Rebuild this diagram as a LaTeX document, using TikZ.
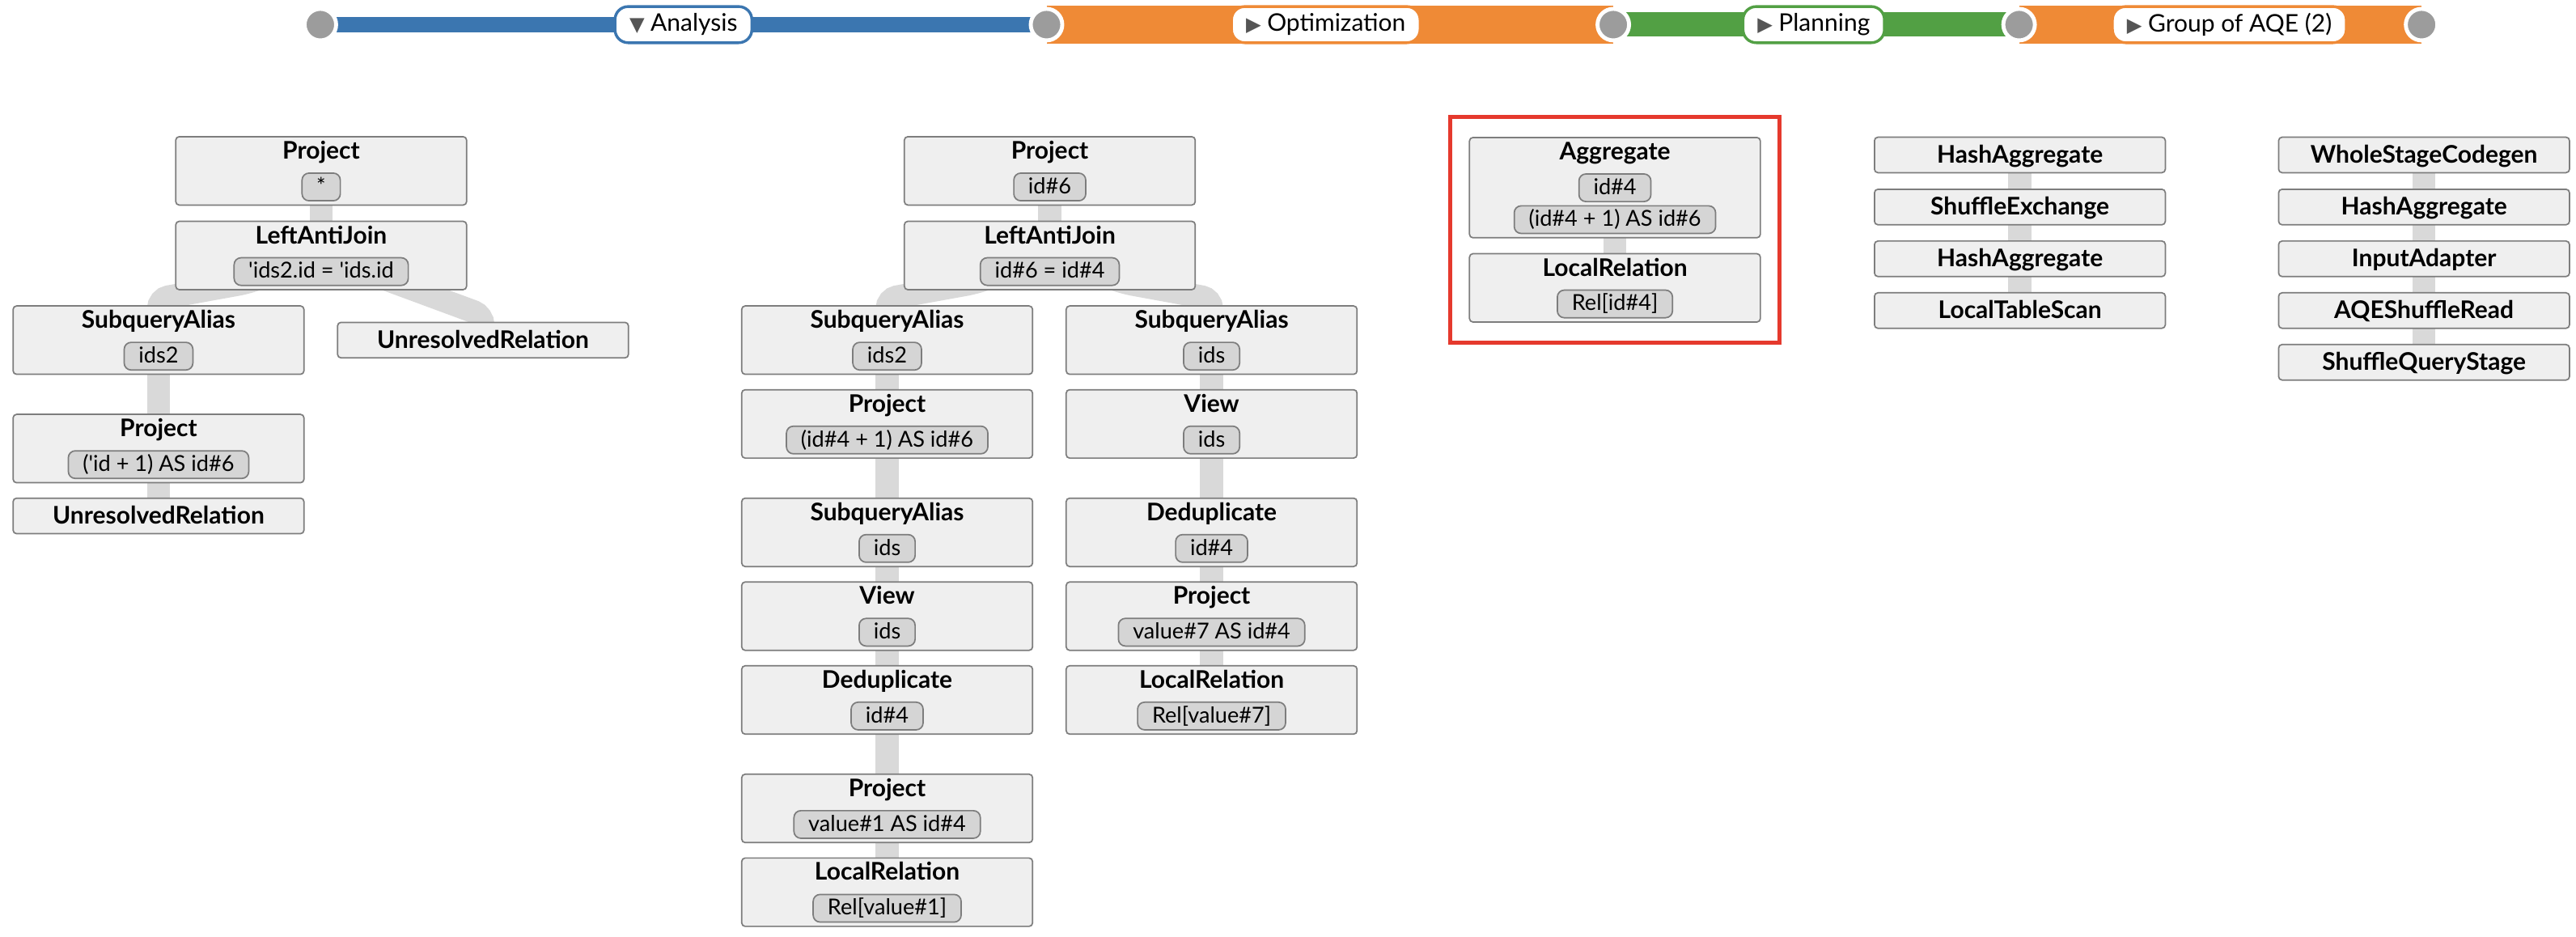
\documentclass[tikz,border=0pt]{standalone}
\usepackage{fontspec}
\setmainfont{Lato}
\newfontfamily\glyphfont{DejaVu Sans}
\usepackage{tikz}
\usetikzlibrary{backgrounds,fit}

\definecolor{boxfill}{HTML}{EFEFEF}
\definecolor{boxline}{HTML}{7D7D7D}
\definecolor{pillfill}{HTML}{D5D5D5}
\definecolor{linkgray}{HTML}{D9D9D9}
\definecolor{dotgray}{HTML}{9C9C9C}
\definecolor{markgray}{HTML}{555555}
\definecolor{barblue}{HTML}{3B76B0}
\definecolor{barorange}{HTML}{EF8A36}
\definecolor{bargreen}{HTML}{52A044}
\definecolor{hlred}{HTML}{E5392D}

\newcommand{\opfont}{\bfseries\fontsize{10.5}{12}\selectfont}
\newcommand{\exprfont}{\fontsize{9.5}{11}\selectfont}
\newcommand{\stagefont}{\fontsize{10.5}{12}\selectfont}
\newcommand{\stagemark}[1]{{\glyphfont\fontsize{8.5}{9}\selectfont\color{markgray}#1}}

% box with a bold title and one expression pill
\newcommand{\planop}[4]{%
  \node[opbox] (#1) at (#2) {};
  \node[optitle] (#1t) at ([yshift=-0.35cm]#1.north) {#3};
  \node[pill] (#1p) at ([yshift=-0.775cm]#1.north) {#4};%
}

\begin{document}
\begin{tikzpicture}[x=0.025cm, y=-0.025cm,
    opbox/.style={draw=boxline, fill=boxfill, line width=0.6pt, rounded corners=1.5pt,
      minimum width=4.425cm, minimum height=1.04cm, inner sep=0pt},
    opbox1/.style={opbox, minimum height=0.54cm, font=\opfont, text height=7.5pt, text depth=0.5pt},
    optitle/.style={font=\opfont, inner sep=0pt, anchor=base},
    pill/.style={draw=boxline, fill=pillfill, line width=0.6pt, rounded corners=3pt,
      minimum height=0.42cm, minimum width=0.55cm, inner xsep=0.22cm, inner ysep=0pt,
      text height=6.8pt, text depth=1pt, font=\exprfont},
    link/.style={draw=linkgray, line width=0.35cm, rounded corners=0.15cm},
    dot/.style={circle, fill=dotgray, draw=white, line width=0.06cm, minimum size=0.48cm, inner sep=0pt},
    stage/.style={draw=#1, fill=white, line width=1.2pt, rounded corners=0.2cm,
      minimum height=0.55cm, inner xsep=0.22cm, inner ysep=0pt, font=\stagefont},
    bar/.style={draw=#1},
    hlbox/.style={draw=hlred, line width=1.8pt, inner ysep=0.3cm, inner xsep=0.28cm}]
  \useasboundingbox (0,0) rectangle (1568,570);

  % Stage bar
  \foreach \i/\x in {1/195,2/637,3/982,4/1229,5/1474}{
    \node[dot] (c\i) at (\x,15) {};
  }
  \node[stage=barblue] (st1) at (416,15) {\stagemark{▼}\hspace{0.25em}Analysis};
  \node[stage=barorange] (st2) at (807,15) {\stagemark{▶}\hspace{0.25em}Optimization};
  \node[stage=bargreen] (st3) at (1104,15) {\stagemark{▶}\hspace{0.25em}Planning};
  \node[stage=barorange] (st4) at (1357,15) {\stagemark{▶}\hspace{0.25em}Group of AQE (2)};

  % Analysis
  \planop{p1}{195.5,104}{Project}{*}
  \planop{j1}{195.5,155.5}{LeftAntiJoin}{\textquotesingle ids2.id = \textquotesingle ids.id}
  \planop{s1}{96.5,207}{SubqueryAlias}{ids2}
  \node[opbox1] (u1) at (294,207) {UnresolvedRelation};
  \planop{q1}{96.5,273}{Project}{(\textquotesingle id + 1) AS id\#6}
  \node[opbox1] (r1) at (96.5,314) {UnresolvedRelation};

  % Optimization
  \planop{p2}{639,104}{Project}{id\#6}
  \planop{j2}{639,155.5}{LeftAntiJoin}{id\#6 = id\#4}
  \planop{a2}{540,207}{SubqueryAlias}{ids2}
  \planop{a3}{540,258}{Project}{(id\#4 + 1) AS id\#6}
  \planop{a4}{540,324}{SubqueryAlias}{ids}
  \planop{a5}{540,375}{View}{ids}
  \planop{a6}{540,426}{Deduplicate}{id\#4}
  \planop{a7}{540,492}{Project}{value\#1 AS id\#4}
  \planop{a8}{540,543}{LocalRelation}{Rel[value\#1]}
  \planop{b2}{737.5,207}{SubqueryAlias}{ids}
  \planop{b3}{737.5,258}{View}{ids}
  \planop{b4}{737.5,324}{Deduplicate}{id\#4}
  \planop{b5}{737.5,375}{Project}{value\#7 AS id\#4}
  \planop{b6}{737.5,426}{LocalRelation}{Rel[value\#7]}

  % Planning
  \node[opbox, minimum height=1.525cm] (ag) at (983,114.2) {};
  \node[optitle] (agt) at ([yshift=-0.35cm]ag.north) {Aggregate};
  \node[pill] (agp1) at ([yshift=-0.775cm]ag.north) {id\#4};
  \node[pill] (agp2) at ([yshift=-1.26cm]ag.north) {(id\#4 + 1) AS id\#6};
  \planop{lr}{983,175.2}{LocalRelation}{Rel[id\#4]}
  \node[hlbox, fit=(ag)(lr)] (hl) {};

  % Group of AQE
  \foreach \name/\y/\txt in {h1/94.3/HashAggregate, h2/126/ShuffleExchange,
      h3/157.5/HashAggregate, h4/189/LocalTableScan}{
    \node[opbox1] (\name) at (1229.5,\y) {\txt};
  }
  \foreach \name/\y/\txt in {w1/94.3/WholeStageCodegen, w2/126/HashAggregate,
      w3/157.5/InputAdapter, w4/189/AQEShuffleRead, w5/220.5/ShuffleQueryStage}{
    \node[opbox1] (\name) at (1475.5,\y) {\txt};
  }

  \begin{scope}[on background layer]
    \fill[white] (0,0) rectangle (1568,570);
    % Bars
    \draw[bar=barblue, line width=0.23cm] (c1.center) -- (c2.center);
    \draw[bar=barorange, line width=0.57cm] (c2.center) -- (c3.center);
    \draw[bar=bargreen, line width=0.37cm] (c3.center) -- (c4.center);
    \draw[bar=barorange, line width=0.57cm] (c4.center) -- (c5.center);
    % Links
    \draw[link] (p1.center) -- (j1.center);
    \draw[link] (j1.center) -- ++(-45,16.5) -- ([yshift=0.1cm]s1.north) -- (s1.center);
    \draw[link] (j1.center) -- ++(45,16.5) -- ([yshift=0.1cm]u1.north) -- (u1.center);
    \draw[link] (s1.center) -- (q1.center);
    \draw[link] (q1.center) -- (r1.center);
    \draw[link] (p2.center) -- (j2.center);
    \draw[link] (j2.center) -- ++(-45,16.5) -- ([yshift=0.1cm]a2.north) -- (a2.center);
    \draw[link] (j2.center) -- ++(45,16.5) -- ([yshift=0.1cm]b2.north) -- (b2.center);
    \foreach \a/\b in {a2/a3,a3/a4,a4/a5,a5/a6,a6/a7,a7/a8,b2/b3,b3/b4,b4/b5,b5/b6,
        ag/lr,h1/h2,h2/h3,h3/h4,w1/w2,w2/w3,w3/w4,w4/w5}
      \draw[link] (\a.center) -- (\b.center);
  \end{scope}
\end{tikzpicture}
\end{document}
